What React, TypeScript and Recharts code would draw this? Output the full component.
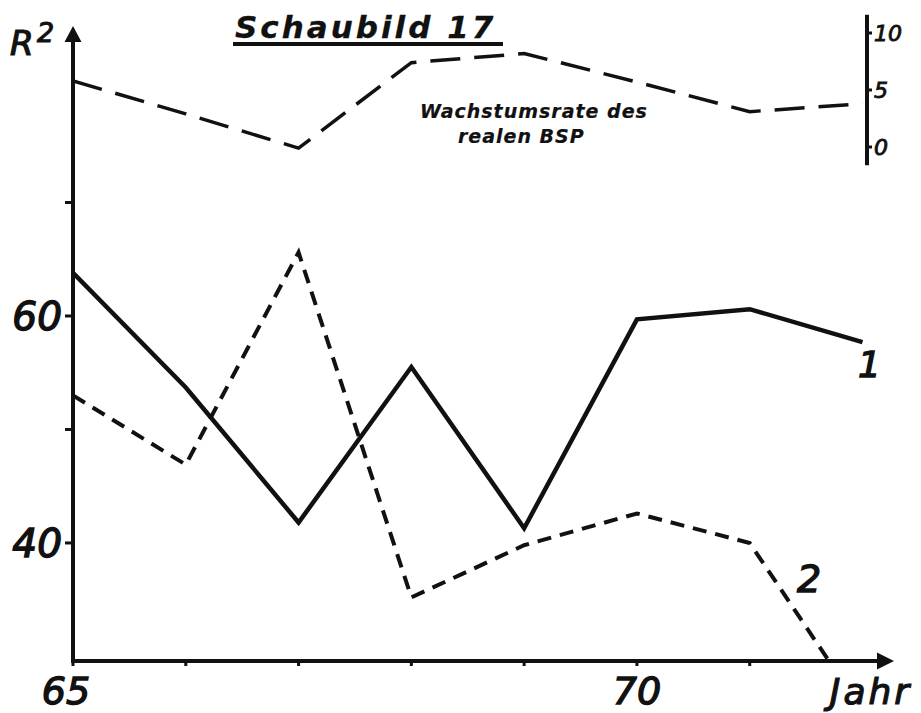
import React from 'react'
import { LineChart, Line, XAxis, YAxis, ReferenceLine } from 'recharts'

// Schaubild 17: R² der beiden Kurven und Wachstumsrate des realen BSP
const jahre = [65, 66, 67, 68, 69, 70, 71, 72]
const kurve1 = [63.8, 53.7, 41.8, 55.5, 41.3, 59.7, 60.6, 57.7]
const kurve2 = [53.0, 46.9, 65.6, 35.2, 39.8, 42.6, 40.0, 25.2]
const wachstum = [5.8, 2.9, -0.1, 7.4, 8.2, 5.7, 3.1, 3.8]

const xTicks = [65, 66, 67, 68, 69, 70, 71]
const xLabels = [65, 70]
const leftTicks = [40, 50, 60, 70]
const leftLabels = [40, 60]
const rightTicks = [0, 5, 10]

const data = jahre.map((jahr, i) => ({
    jahr,
    k1: kurve1[i],
    k2: kurve2[i],
    bsp: wachstum[i],
}))

const ink = '#111'
const font = "'DejaVu Sans', sans-serif"
const xMax = 72.04

const renderXTick = (props: any) => {
    const { x, y, payload } = props
    if (!xLabels.includes(payload.value)) return <g />
    return (
        <text
            x={x + (payload.value === 65 ? -7 : 0)}
            y={y}
            dy="0.71em"
            textAnchor="middle"
            fill={ink}
            stroke={ink}
            strokeWidth={1.4}
            fontSize={38}
            fontStyle="italic"
            fontFamily={font}
        >
            {payload.value}
        </text>
    )
}

const renderJahr = (props: any) => {
    const { viewBox } = props
    return (
        <text
            x={viewBox.x + viewBox.width + 4}
            y={viewBox.y + 43}
            textAnchor="middle"
            fill={ink}
            stroke={ink}
            strokeWidth={1.2}
            fontSize={36}
            fontStyle="italic"
            fontFamily={font}
            letterSpacing={3}
        >
            Jahr
        </text>
    )
}

export default function App() {
    return (
        <div style={{ position: 'absolute', left: 0, top: 0, width: 921, height: 713, background: '#fff' }}>
            <svg width={0} height={0} style={{ position: 'absolute' }}>
                <defs>
                    <marker id="pfeilY" markerUnits="userSpaceOnUse" viewBox="0 -10 20 20" markerWidth={20} markerHeight={20} refX={0} refY={0} orient="auto-start-reverse">
                        <path d="M0,-8.5 L16,0 L0,8.5 Z" fill={ink} />
                    </marker>
                    <marker id="pfeilX" markerUnits="userSpaceOnUse" viewBox="0 -10 30 20" markerWidth={30} markerHeight={20} refX={0} refY={0} orient="auto">
                        <path d="M0,-2 L10,-2 L10,-8.5 L27,0 L10,8.5 L10,2 L0,2 Z" fill={ink} />
                    </marker>
                </defs>
            </svg>

            <LineChart width={921} height={713} data={data} margin={{ top: 42, right: 14, bottom: 0, left: 0 }}>
                <XAxis
                    dataKey="jahr"
                    type="number"
                    domain={[65, xMax]}
                    allowDataOverflow
                    ticks={xTicks}
                    interval={0}
                    height={52}
                    tickSize={5}
                    tickMargin={11}
                    axisLine={{ stroke: ink, strokeWidth: 4, strokeLinecap: 'square', markerEnd: 'url(#pfeilX)' }}
                    tickLine={{ stroke: ink, strokeWidth: 3 }}
                    tick={renderXTick}
                    label={renderJahr}
                />
                <YAxis
                    yAxisId="left"
                    type="number"
                    domain={[29.6, 84.14]}
                    allowDataOverflow
                    ticks={leftTicks}
                    interval={0}
                    width={73}
                    tickSize={8}
                    tickMargin={3}
                    axisLine={{ stroke: ink, strokeWidth: 4, strokeLinecap: 'square', markerStart: 'url(#pfeilY)' }}
                    tickLine={{ stroke: ink, strokeWidth: 3 }}
                    tick={{ fill: ink, stroke: ink, strokeWidth: 1.4, fontSize: 39, fontStyle: 'italic', fontFamily: font }}
                    tickFormatter={(v) => (leftLabels.includes(v) ? String(v) : '')}
                />
                <YAxis
                    yAxisId="right"
                    orientation="right"
                    type="number"
                    domain={[-45.09, 9.21]}
                    allowDataOverflow
                    ticks={rightTicks}
                    interval={0}
                    width={40}
                    tickSize={5}
                    tickMargin={2}
                    axisLine={false}
                    tickLine={{ stroke: ink, strokeWidth: 3 }}
                    tick={{ fill: ink, stroke: ink, strokeWidth: 0.9, fontSize: 22, fontStyle: 'italic', fontFamily: font }}
                />
                <ReferenceLine
                    yAxisId="right"
                    segment={[{ x: xMax, y: -1.6 }, { x: xMax, y: 11.6 }]}
                    ifOverflow="visible"
                    stroke={ink}
                    strokeWidth={4}
                />
                <Line
                    yAxisId="right"
                    type="linear"
                    dataKey="bsp"
                    stroke={ink}
                    strokeWidth={3.5}
                    strokeDasharray="30 14"
                    dot={false}
                    activeDot={false}
                    isAnimationActive={false}
                />
                <Line
                    yAxisId="left"
                    type="linear"
                    dataKey="k1"
                    stroke={ink}
                    strokeWidth={4.5}
                    dot={false}
                    activeDot={false}
                    isAnimationActive={false}
                />
                <Line
                    yAxisId="left"
                    type="linear"
                    dataKey="k2"
                    stroke={ink}
                    strokeWidth={4}
                    strokeDasharray="14 9"
                    dot={false}
                    activeDot={false}
                    isAnimationActive={false}
                />
            </LineChart>

            <svg width={921} height={713} style={{ position: 'absolute', left: 0, top: 0, pointerEvents: 'none' }}>
                <g fill={ink} stroke={ink} fontFamily={font} fontStyle="italic">
                    <text x={10} y={55} fontSize={34} strokeWidth={1.2}>R</text>
                    <text x={37} y={42} fontSize={27} strokeWidth={1.1}>2</text>
                    <text x={235} y={38} fontSize={31} fontWeight="bold" letterSpacing={3} strokeWidth={0.3}>Schaubild 17</text>
                    <text x={420} y={118} fontSize={19} fontWeight="bold" letterSpacing={1} strokeWidth={0.2}>Wachstumsrate des</text>
                    <text x={458} y={143} fontSize={19} fontWeight="bold" letterSpacing={1} strokeWidth={0.2}>realen BSP</text>
                    <text x={858} y={377} fontSize={36} strokeWidth={1.4}>1</text>
                    <text x={797} y={592} fontSize={38} strokeWidth={1.4}>2</text>
                </g>
                <line x1={233} y1={44} x2={503} y2={44} stroke={ink} strokeWidth={4} />
            </svg>
        </div>
    )
}
